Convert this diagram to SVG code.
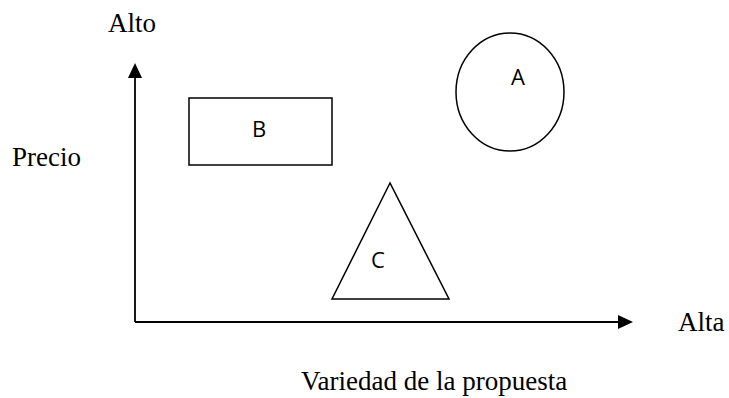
<svg xmlns="http://www.w3.org/2000/svg" width="729" height="398" viewBox="0 0 729 398">
<style>
.ser{font-family:"Liberation Serif","Times New Roman",serif;font-size:27px;fill:#000}
.san{font-family:"Open Sans","Liberation Sans",Arial,sans-serif;font-size:22px;fill:#000;text-anchor:middle}
.shape{fill:#fff;stroke:#000;stroke-width:1.5}
.axis{stroke:#000;stroke-width:1.8;fill:none}
</style>
<rect width="729" height="398" fill="#fff"/>
<g id="connectors">
<polyline class="axis" points="135,322 135,78"/>
<path d="M128,78 L135,63 L142,78 z" fill="#000"/>
<polyline class="axis" points="135,322 618,322"/>
<path d="M618,315 L633,322 L618,329 z" fill="#000"/>
</g>
<g id="labels">
<text class="ser" x="108" y="32">Alto</text>
<text class="ser" x="12" y="166">Precio</text>
<text class="ser" x="678" y="331">Alta</text>
<text class="ser" x="301" y="390">Variedad de la propuesta</text>
</g>
<g id="nodeA">
<ellipse class="shape" cx="510" cy="92" rx="54" ry="59"/>
<text class="san" x="518" y="85">A</text>
</g>
<g id="nodeB">
<rect class="shape" x="189" y="98" width="143" height="67"/>
<text class="san" x="259" y="137">B</text>
</g>
<g id="nodeC">
<polygon class="shape" points="390,183 332,299 449,299"/>
<text class="san" x="378" y="268">C</text>
</g>
</svg>
